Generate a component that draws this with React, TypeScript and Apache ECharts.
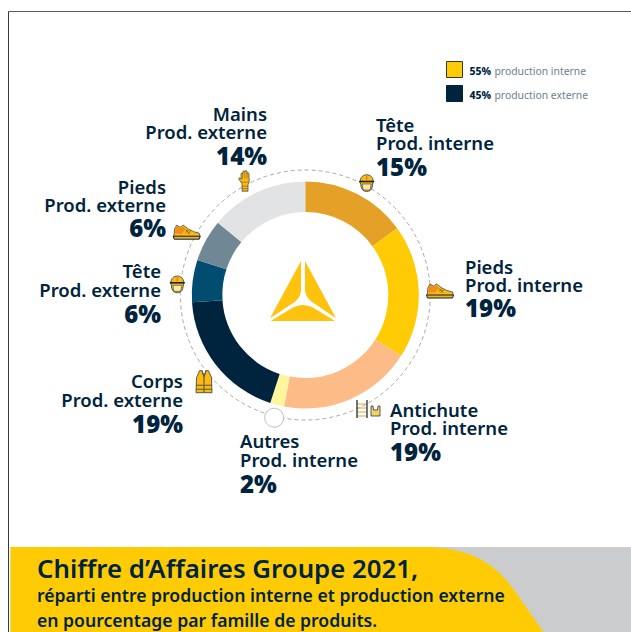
import React, { useEffect, useRef } from "react";
import * as echarts from "echarts";

const sliceNames = ["Tête", "Pieds", "Antichute", "Autres", "Corps", "Tête", "Pieds", "Mains"];
const sliceKinds = ["Prod. interne", "Prod. interne", "Prod. interne", "Prod. interne", "Prod. externe", "Prod. externe", "Prod. externe", "Prod. externe"];
const sliceValues = [15, 19, 19, 2, 19, 6, 6, 14];
const sliceColors = ["#E5A028", "#FFCB05", "#FDBC87", "#FFF59D", "#00243D", "#004D71", "#708896", "#E1E3E5"];
const legendShares = ["55%", "45%"];
const legendNames = ["production interne", "production externe"];
const titleLines = [
  "Chiffre d’Affaires Groupe 2021,",
  "réparti entre production interne et production externe",
  "en pourcentage par famille de produits.",
];

const NAVY = "#00243D";
const YELLOW = "#FFCB05";
const FONT = "'Noto Sans', 'Open Sans', sans-serif";
const CX = 305.3;
const CY = 295;

// x, alignment and the three lines' centres of each label block
const labelLayout: [number, "left" | "right", number, number, number][] = [
  [376, "left", 124, 142, 166],
  [465, "left", 266, 284, 307],
  [390, "left", 409, 427, 451],
  [240, "left", 440, 459, 483],
  [183, "right", 380, 399, 423],
  [161, "right", 270, 289, 313],
  [166, "right", 186, 204, 227],
  [267, "right", 113, 131, 155],
];

const reg = (n: string, d: string) => echarts.graphic.registerShape(n, echarts.graphic.extendPath(d, {}) as any);
reg("logoLeft", "M301 261 L301 290 Q301 297 295 301.7 L270 318.3 Z");
reg("logoRight", "M305 261 L305 290 Q305 297 311.7 301.7 L336 318.3 Z");
reg("logoBottom", "M270.7 321 L293 307.5 Q303 302.5 313 307.5 L335 321 Z");
reg("bannerShape", "M10.5 547 L430 547 C480 549 503 572 519 597 L543.5 632 L10.5 632 Z");
// icons, local coordinates centred on 0,0
reg("helmet", "M-6.5 -1.5 C-6.5 -10.5 6.5 -10.5 6.5 -1.5 L5.5 4 C4.5 10 -4.5 10 -5.5 4 Z");
reg("helmetBand", "M-7.5 -1.5 L7.5 -1.5");
reg("helmetFace", "M-4.5 1 L4.5 1 L3.5 7 L-3.5 7 Z");
reg("helmetRidge", "M0 -8 L0 -3");
reg("shoe", "M-13 4 L-12 -4 L-10 -7.5 L-6.5 -5.5 L-3.5 -7.5 L2 -3.5 L7 -1 L12.5 0.5 L13.5 4 Z");
reg("shoePatch", "M-11.5 -3.5 L-9.5 -6.5 L-6.5 -4.5 L-3.5 -6 L-1 -3.5 L-5 1 L-11.5 1 Z");
reg("shoeSole", "M-13.5 3.5 L13.5 3.5 L12.5 6.5 L-12.5 6.5 Z");
reg("shoeDetail", "M-1 -3 L3 1 M2 -3 L-1 0 M4 -2 L1 1");
reg("glove", "M-3 10.5 L-3 3 L-6.5 -2 L-5 -3 L-3.8 -1.5 L-4 -6.5 C-4 -8 -2.6 -8 -2.4 -6.5 L-2.2 -8.5 C-2 -10.3 -0.4 -10.3 -0.2 -8.5 L0 -9 C0.2 -10.5 1.8 -10.5 2 -9 L2.2 -7 C2.4 -8.4 4 -8.4 4 -6.5 L4.2 1 L3 4 L3 10.5 Z");
reg("gloveBand", "M-3 5.5 L3 5.5 M-3 8 L3 8 M-3 1.5 L3.5 1.5 M-2.4 -6 L-2.4 -2 M-0.2 -8 L-0.2 -2 M2 -7 L2 -2");
reg("vest", "M-7.5 -4 L-4.5 -11 L-2 -11 L0 -5 L2 -11 L4.5 -11 L7.5 -4 L8 11 L-8 11 Z");
reg("vestBands", "M-8 3.5 L8 3.5 M-8 7.5 L8 7.5 M0 -5 L0 11 M-2 -11 L0 -5 L2 -11");
reg("ladder", "M-5 -9 L-5 9 M5 -9 L5 9");
reg("ladderRungs", "M-5 -5 L5 -5 M-5 -1 L5 -1 M-5 3 L5 3 M-5 7 L5 7");
reg("harness", "M-4.5 -5 L-4.5 5 L4.5 5 L4.5 -5 L2.5 -5 L2 -1 L-2 -1 L-2.5 -5 Z");

function icon(x: number, y: number, parts: any[]) {
  return { type: "group", x, y, silent: true, children: parts };
}
const ICON_DARK = "#2B3A42";
const helmetParts = () => [
  { type: "helmet", style: { fill: "#FDB913", stroke: ICON_DARK, lineWidth: 0.8 } },
  { type: "helmetFace", style: { fill: "#FFE9A8", stroke: ICON_DARK, lineWidth: 0.6 } },
  { type: "helmetRidge", style: { fill: "none", stroke: "#E58A1F", lineWidth: 1.5 } },
  { type: "helmetBand", style: { fill: "none", stroke: "#10222E", lineWidth: 1.6 } },
];
const shoeParts = () => [
  { type: "shoe", style: { fill: "#FDB913", stroke: ICON_DARK, lineWidth: 0.7 } },
  { type: "shoePatch", style: { fill: "#F08C1E" } },
  { type: "shoeDetail", style: { fill: "none", stroke: "#7A5A10", lineWidth: 0.9 } },
  { type: "shoeSole", style: { fill: "#E9B62A", stroke: "#10222E", lineWidth: 1 } },
];

function labelGraphics() {
  const out: any[] = [];
  sliceNames.forEach((name, i) => {
    const [x, align, y1, y2, y3] = labelLayout[i];
    const line = (text: string, y: number, size: number, weight: number) => ({
      type: "text",
      x,
      y,
      silent: true,
      style: { text, fill: NAVY, align, verticalAlign: "middle", font: `${weight} ${size}px ${FONT}` },
    });
    out.push(line(name, y1, 18.5, 600));
    out.push(line(sliceKinds[i], y2, 18.5, 600));
    out.push(line(`${sliceValues[i]}%`, y3, 24, 900));
  });
  return out;
}

function legendGraphics() {
  const out: any[] = [];
  const colors = [YELLOW, NAVY];
  const strokes = ["#3A3620", NAVY];
  const ys = [61.5, 85.5];
  legendShares.forEach((s, i) => {
    out.push({ type: "rect", silent: true, shape: { x: 446.5, y: ys[i], width: 16, height: 16 }, style: { fill: colors[i], stroke: strokes[i], lineWidth: 1 } });
    out.push({
      type: "text",
      x: 469.5,
      y: ys[i] + 9.5,
      silent: true,
      style: {
        text: `{b|${s}} {n|${legendNames[i]}}`,
        verticalAlign: "middle",
        rich: {
          b: { font: `800 10.4px ${FONT}`, fill: NAVY },
          n: { font: `400 10.4px ${FONT}`, fill: "#6D808D" },
        },
      },
    });
  });
  return out;
}

export default function App() {
  const ref = useRef<HTMLDivElement>(null);
  useEffect(() => {
    const chart = echarts.init(ref.current!, undefined, { renderer: "svg" });
    chart.setOption({
      animation: false,
      backgroundColor: "#FFFFFF",
      series: [
        {
          type: "pie",
          silent: true,
          center: [CX, CY],
          radius: [83, 113.5],
          startAngle: 90,
          label: { show: false },
          labelLine: { show: false },
          data: sliceValues.map((value, i) => ({
            value,
            name: `${sliceNames[i]} ${sliceKinds[i]}`,
            itemStyle: { color: sliceColors[i] },
          })),
        },
      ],
      graphic: [
        {
          type: "group",
          silent: true,
          children: [
            { type: "line", shape: { x1: 8.5, y1: 11.5, x2: 631, y2: 11.5 }, style: { stroke: "#5A5A5A", lineWidth: 1 } },
            { type: "line", shape: { x1: 8.5, y1: 11.5, x2: 8.5, y2: 632 }, style: { stroke: "#3A3A3A", lineWidth: 1 } },
            { type: "rect", shape: { x: 10.5, y: 547, width: 621, height: 85 }, style: { fill: "#CBCCCE" } },
            { type: "bannerShape", style: { fill: YELLOW } },
            { type: "text", x: 37, y: 568, style: { text: titleLines[0], fill: NAVY, verticalAlign: "middle", font: `600 25.8px ${FONT}` } },
            { type: "text", x: 37, y: 595, style: { text: titleLines[1], fill: NAVY, verticalAlign: "middle", font: `600 17.6px ${FONT}` } },
            { type: "text", x: 37, y: 620, style: { text: titleLines[2], fill: NAVY, verticalAlign: "middle", font: `600 17.6px ${FONT}` } },
            { type: "circle", shape: { cx: CX, cy: CY, r: 125 }, style: { fill: "none", stroke: "#A8A8A8", lineWidth: 1, lineDash: [4, 3] } },
            { type: "circle", shape: { cx: 274.2, cy: 417.7, r: 9.5 }, style: { fill: "#FFFFFF", stroke: "#BDBDBD", lineWidth: 1 } },
            { type: "logoLeft", style: { fill: "#FFC20E" } },
            { type: "logoRight", style: { fill: "#FFC20E" } },
            { type: "logoBottom", style: { fill: "#FFC20E" } },
          ],
        },
        icon(366.7, 183, helmetParts()),
        icon(177.3, 284.3, helmetParts()),
        icon(440, 291.5, shoeParts()),
        icon(186.7, 232.7, shoeParts()),
        icon(245, 180.7, [
          { type: "glove", style: { fill: "#FDB913", stroke: ICON_DARK, lineWidth: 0.7 } },
          { type: "gloveBand", style: { fill: "none", stroke: "#8A6A10", lineWidth: 0.7 } },
        ]),
        icon(204, 381.7, [
          { type: "vest", style: { fill: "#FDB913", stroke: ICON_DARK, lineWidth: 0.8 } },
          { type: "vestBands", style: { fill: "none", stroke: "#5A5A40", lineWidth: 1.1 } },
        ]),
        icon(362, 409, [
          { type: "ladderRungs", style: { fill: "none", stroke: "#E5A028", lineWidth: 1.2 } },
          { type: "ladder", style: { fill: "none", stroke: "#3E4A50", lineWidth: 1.5 } },
        ]),
        icon(375.5, 411, [{ type: "harness", style: { fill: "#F2D266", stroke: ICON_DARK, lineWidth: 0.8 } }]),
        ...legendGraphics(),
        ...labelGraphics(),
      ],
    });
    return () => chart.dispose();
  }, []);
  return <div ref={ref} style={{ position: "fixed", left: 0, top: 0, width: 631, height: 632 }} />;
}
